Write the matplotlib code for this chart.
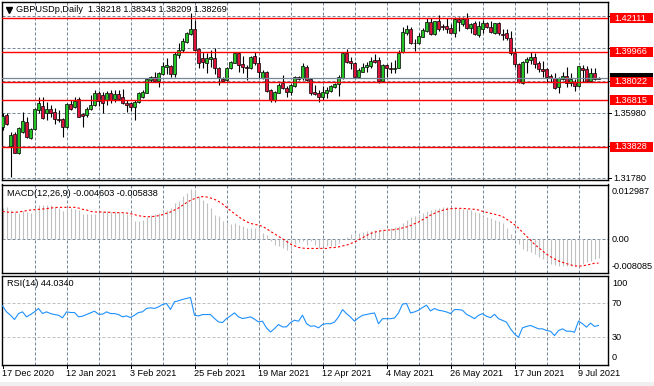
import numpy as np
import matplotlib
matplotlib.use("Agg")
import matplotlib.pyplot as plt
from matplotlib.patches import Rectangle
from matplotlib.lines import Line2D

plt.rcParams['font.family'] = ['Liberation Sans', 'DejaVu Sans']

# ---- data ----
title = "GBPUSDp,Daily  1.38218 1.38343 1.38209 1.38269"
macd_title = "MACD(12,26,9) -0.004603 -0.005838"
rsi_title = "RSI(14) 44.0340"

date_labels = ["17 Dec 2020", "12 Jan 2021", "3 Feb 2021", "25 Feb 2021", "19 Mar 2021",
               "12 Apr 2021", "4 May 2021", "26 May 2021", "17 Jun 2021", "9 Jul 2021"]
date_idx = [0, 16, 32, 48, 64, 80, 96, 112, 128, 144]

opens = [
    1.3512, 1.3587, 1.3387, 1.3463, 1.3344, 1.3480, 1.3544, 1.3437, 1.3495, 1.3620,
    1.3645, 1.3598, 1.3624, 1.3604, 1.3561, 1.3559, 1.3512, 1.3658, 1.3637, 1.3688,
    1.3594, 1.3585, 1.3624, 1.3650, 1.3731, 1.3716, 1.3684, 1.3731, 1.3688, 1.3721,
    1.3703, 1.3667, 1.3663, 1.3641, 1.3673, 1.3706, 1.3731, 1.3813, 1.3830, 1.3809,
    1.3852, 1.3899, 1.3903, 1.3852, 1.3974, 1.4007, 1.4060, 1.4110, 1.4140, 1.4011,
    1.3953, 1.3921, 1.3946, 1.3953, 1.3888, 1.3819, 1.3813, 1.3888, 1.3925, 1.3989,
    1.3914, 1.3899, 1.3888, 1.3968, 1.3925, 1.3824, 1.3867, 1.3749, 1.3684, 1.3731,
    1.3792, 1.3764, 1.3738, 1.3774, 1.3830, 1.3824, 1.3899, 1.3817, 1.3736, 1.3727,
    1.3706, 1.3731, 1.3744, 1.3770, 1.3785, 1.3824, 1.3989, 1.3936, 1.3925, 1.3835,
    1.3867, 1.3895, 1.3905, 1.3942, 1.3942, 1.3809, 1.3910, 1.3893, 1.3884, 1.3888,
    1.3996, 1.4114, 1.4140, 1.4054, 1.4050, 1.4093, 1.4131, 1.4189, 1.4110, 1.4194,
    1.4161, 1.4161, 1.4146, 1.4118, 1.4206, 1.4174, 1.4211, 1.4146, 1.4178, 1.4103,
    1.4140, 1.4183, 1.4153, 1.4114, 1.4183, 1.4110, 1.4114, 1.4082, 1.3989, 1.3914,
    1.3792, 1.3931, 1.3942, 1.3959, 1.3921, 1.3884, 1.3882, 1.3839, 1.3828, 1.3766,
    1.3817, 1.3839, 1.3796, 1.3802, 1.3774, 1.3888, 1.3884, 1.3809, 1.3860, 1.38218]
highs = [
    1.3598, 1.3598, 1.3480, 1.3480, 1.3512, 1.3609, 1.3572, 1.3501, 1.3630, 1.3701,
    1.3701, 1.3673, 1.3652, 1.3630, 1.3620, 1.3566, 1.3663, 1.3684, 1.3706, 1.3706,
    1.3602, 1.3637, 1.3716, 1.3749, 1.3744, 1.3738, 1.3744, 1.3749, 1.3749, 1.3749,
    1.3753, 1.3684, 1.3673, 1.3684, 1.3738, 1.3749, 1.3824, 1.3839, 1.3867, 1.3867,
    1.3931, 1.3953, 1.3910, 1.3996, 1.4050, 1.4082, 1.4125, 1.4247, 1.4200, 1.4017,
    1.3996, 1.3985, 1.4007, 1.4022, 1.3899, 1.3830, 1.3899, 1.3936, 1.3996, 1.3996,
    1.3968, 1.3910, 1.3968, 1.3996, 1.3964, 1.3878, 1.3871, 1.3753, 1.3744, 1.3792,
    1.3845, 1.3774, 1.3787, 1.3839, 1.3839, 1.3925, 1.3910, 1.3824, 1.3781, 1.3749,
    1.3774, 1.3766, 1.3781, 1.3796, 1.3845, 1.3996, 1.4011, 1.3964, 1.3931, 1.3888,
    1.3925, 1.3931, 1.3964, 1.3981, 1.3959, 1.3914, 1.3914, 1.3931, 1.3942, 1.4007,
    1.4157, 1.4168, 1.4153, 1.4075, 1.4118, 1.4146, 1.4211, 1.4211, 1.4196, 1.4232,
    1.4174, 1.4211, 1.4174, 1.4222, 1.4217, 1.4217, 1.4247, 1.4183, 1.4196, 1.4196,
    1.4200, 1.4189, 1.4196, 1.4178, 1.4189, 1.4140, 1.4140, 1.4131, 1.4017, 1.3921,
    1.3938, 1.3964, 1.3996, 1.3985, 1.3938, 1.3938, 1.3888, 1.3852, 1.3856, 1.3830,
    1.3867, 1.3899, 1.3856, 1.3817, 1.3903, 1.3910, 1.3903, 1.3888, 1.3888, 1.38343]
lows = [
    1.3491, 1.3523, 1.3185, 1.3340, 1.3336, 1.3473, 1.3437, 1.3432, 1.3491, 1.3598,
    1.3559, 1.3555, 1.3577, 1.3529, 1.3544, 1.3448, 1.3501, 1.3620, 1.3630, 1.3572,
    1.3512, 1.3577, 1.3620, 1.3645, 1.3645, 1.3602, 1.3652, 1.3663, 1.3673, 1.3684,
    1.3658, 1.3609, 1.3613, 1.3555, 1.3663, 1.3695, 1.3727, 1.3802, 1.3802, 1.3770,
    1.3845, 1.3852, 1.3830, 1.3830, 1.3953, 1.3996, 1.4054, 1.4103, 1.4002, 1.3888,
    1.3888, 1.3856, 1.3899, 1.3852, 1.3781, 1.3802, 1.3809, 1.3882, 1.3921, 1.3867,
    1.3860, 1.3813, 1.3884, 1.3910, 1.3824, 1.3817, 1.3738, 1.3671, 1.3673, 1.3727,
    1.3753, 1.3706, 1.3716, 1.3770, 1.3813, 1.3813, 1.3809, 1.3716, 1.3716, 1.3673,
    1.3684, 1.3695, 1.3738, 1.3759, 1.3710, 1.3817, 1.3921, 1.3882, 1.3824, 1.3830,
    1.3862, 1.3867, 1.3888, 1.3921, 1.3796, 1.3802, 1.3835, 1.3856, 1.3856, 1.3888,
    1.3989, 1.4103, 1.4045, 1.4002, 1.4043, 1.4088, 1.4125, 1.4103, 1.4103, 1.4131,
    1.4135, 1.4114, 1.4114, 1.4093, 1.4131, 1.4161, 1.4140, 1.4114, 1.4101, 1.4088,
    1.4114, 1.4146, 1.4114, 1.4108, 1.4103, 1.4071, 1.4071, 1.3974, 1.3899, 1.3792,
    1.3787, 1.3856, 1.3916, 1.3888, 1.3867, 1.3835, 1.3802, 1.3802, 1.3753, 1.3727,
    1.3813, 1.3770, 1.3774, 1.3744, 1.3770, 1.3802, 1.3802, 1.3802, 1.3813, 1.38209]
closes = [
    1.3581, 1.3529, 1.3458, 1.3344, 1.3501, 1.3549, 1.3443, 1.3495, 1.3624, 1.3663,
    1.3566, 1.3624, 1.3598, 1.3559, 1.3555, 1.3508, 1.3656, 1.3628, 1.3678, 1.3577,
    1.3581, 1.3624, 1.3650, 1.3727, 1.3680, 1.3663, 1.3731, 1.3684, 1.3723, 1.3693,
    1.3663, 1.3650, 1.3641, 1.3673, 1.3731, 1.3738, 1.3817, 1.3830, 1.3809, 1.3860,
    1.3903, 1.3910, 1.3852, 1.3979, 1.4007, 1.4067, 1.4114, 1.4142, 1.4007, 1.3921,
    1.3931, 1.3953, 1.3959, 1.3888, 1.3830, 1.3809, 1.3888, 1.3931, 1.3989, 1.3910,
    1.3899, 1.3888, 1.3959, 1.3921, 1.3867, 1.3867, 1.3744, 1.3684, 1.3738, 1.3781,
    1.3759, 1.3738, 1.3781, 1.3830, 1.3822, 1.3903, 1.3813, 1.3731, 1.3723, 1.3701,
    1.3738, 1.3749, 1.3774, 1.3787, 1.3830, 1.3989, 1.3931, 1.3921, 1.3835, 1.3878,
    1.3895, 1.3910, 1.3936, 1.3931, 1.3809, 1.3910, 1.3888, 1.3884, 1.3893, 1.3989,
    1.4120, 1.4140, 1.4050, 1.4050, 1.4097, 1.4135, 1.4189, 1.4110, 1.4194, 1.4142,
    1.4153, 1.4142, 1.4118, 1.4204, 1.4185, 1.4204, 1.4146, 1.4174, 1.4110, 1.4161,
    1.4178, 1.4153, 1.4120, 1.4178, 1.4114, 1.4103, 1.4082, 1.3985, 1.3914, 1.3802,
    1.3931, 1.3948, 1.3959, 1.3914, 1.3882, 1.3873, 1.3830, 1.3824, 1.3759, 1.3824,
    1.3839, 1.3796, 1.3817, 1.3776, 1.3903, 1.3878, 1.3809, 1.3856, 1.3819, 1.38269]

macd_main = [
    0.00736, 0.00752, 0.00696, 0.00632, 0.00616, 0.00656, 0.0064, 0.00616, 0.00696, 0.008,
    0.008, 0.008, 0.008, 0.00752, 0.00736, 0.00656, 0.00736, 0.00736, 0.0072, 0.00696,
    0.006, 0.00592, 0.00592, 0.00592, 0.0064, 0.00656, 0.00672, 0.0064, 0.00656, 0.0064,
    0.00616, 0.00592, 0.00536, 0.00432, 0.00432, 0.00456, 0.00512, 0.0056, 0.00592, 0.00616,
    0.00672, 0.00696, 0.00736, 0.00856, 0.00896, 0.01016, 0.01096, 0.012, 0.01176, 0.01016,
    0.00936, 0.00856, 0.00736, 0.00576, 0.00536, 0.00416, 0.004, 0.00352, 0.00376, 0.00336,
    0.00296, 0.00256, 0.00256, 0.00256, 0.00256, 0.00136, 0.0008, -0.00064, -0.00144, -0.00184,
    -0.00224, -0.00264, -0.00304, -0.00128, -0.0008, -0.00064, -0.00144, -0.00064, -0.0016, -0.00224,
    -0.00184, -0.00184, -0.00172, -0.00172, -0.00094, -0.00016, 0.00047, 0.00102, 0.00125, 0.00141,
    0.00156, 0.0018, 0.0018, 0.00219, 0.00219, 0.00219, 0.00235, 0.00258, 0.00282, 0.00313,
    0.00375, 0.00454, 0.00516, 0.00547, 0.00571, 0.0061, 0.00673, 0.00688, 0.0072, 0.00735,
    0.00751, 0.00751, 0.00751, 0.00766, 0.00735, 0.0072, 0.00704, 0.00688, 0.00649, 0.0061,
    0.00547, 0.00516, 0.00493, 0.00454, 0.00414, 0.00375, 0.00258, 0.00102, -0.00055, -0.00133,
    -0.0025, -0.00289, -0.00328, -0.00368, -0.00446, -0.00485, -0.00524, -0.00602, -0.00626, -0.00657,
    -0.00657, -0.00657, -0.00657, -0.00657, -0.00641, -0.00602, -0.00563, -0.00524, -0.00485, -0.004603]
macd_signal = [
    0.00656, 0.0064, 0.00632, 0.00632, 0.0064, 0.00656, 0.00672, 0.00688, 0.00696, 0.00704,
    0.00712, 0.0072, 0.00736, 0.00744, 0.00752, 0.00752, 0.00752, 0.00752, 0.00752, 0.00736,
    0.00704, 0.00688, 0.00656, 0.0064, 0.0064, 0.0064, 0.00632, 0.00632, 0.00624, 0.00624,
    0.00624, 0.00616, 0.006, 0.00576, 0.00552, 0.00536, 0.00528, 0.00528, 0.00536, 0.00552,
    0.00576, 0.00608, 0.0064, 0.00688, 0.00736, 0.008, 0.00864, 0.0092, 0.0096, 0.00992,
    0.01008, 0.01, 0.00976, 0.00944, 0.00896, 0.00832, 0.00752, 0.00672, 0.006, 0.00528,
    0.00464, 0.00408, 0.00368, 0.00344, 0.00328, 0.00296, 0.0024, 0.00176, 0.0012, 0.00056,
    0.0, -0.00064, -0.00128, -0.00168, -0.00208, -0.00224, -0.00232, -0.00232, -0.00232, -0.00232,
    -0.00232, -0.00232, -0.00211, -0.00211, -0.00196, -0.00172, -0.00156, -0.00117, -0.00078, -0.00031,
    0.00023, 0.00078, 0.00125, 0.00156, 0.0018, 0.00196, 0.00203, 0.00211, 0.00219, 0.00235,
    0.00258, 0.00282, 0.00313, 0.0036, 0.00399, 0.00454, 0.00508, 0.00563, 0.0061, 0.00649,
    0.0068, 0.00704, 0.0072, 0.00727, 0.00727, 0.00727, 0.0072, 0.00712, 0.00704, 0.00688,
    0.00657, 0.00633, 0.0061, 0.00587, 0.00563, 0.00532, 0.00469, 0.00407, 0.00336, 0.00258,
    0.00156, 0.00063, -0.00031, -0.00133, -0.00211, -0.00289, -0.00368, -0.0043, -0.00485, -0.00532,
    -0.00563, -0.00594, -0.00626, -0.00649, -0.00657, -0.00649, -0.00633, -0.0061, -0.00587, -0.005838]
rsi = [
    67.2, 60.1, 56.1, 51.0, 58.1, 60.1, 54.2, 56.9, 60.1, 64.1,
    58.1, 60.1, 58.1, 56.9, 56.1, 53.0, 60.1, 59.3, 59.3, 54.2,
    55.0, 56.9, 58.9, 60.9, 57.3, 57.3, 60.1, 58.1, 58.1, 56.9,
    54.2, 55.3, 53.4, 56.1, 59.3, 60.1, 64.1, 64.9, 64.1, 66.0,
    68.8, 70.0, 62.9, 72.0, 73.2, 74.8, 75.9, 77.1, 56.1, 55.3,
    56.9, 56.9, 56.9, 52.2, 48.2, 47.4, 52.2, 55.3, 58.9, 54.2,
    52.2, 53.0, 54.2, 51.4, 48.2, 49.0, 41.1, 36.3, 40.3, 45.1,
    42.3, 42.3, 47.4, 50.2, 49.0, 56.1, 46.2, 43.1, 43.5, 41.1,
    45.1, 46.2, 46.0, 48.0, 54.0, 62.8, 58.0, 54.0, 49.0, 53.0,
    56.0, 57.0, 58.0, 58.8, 46.0, 52.0, 52.0, 52.0, 52.8, 58.8,
    69.2, 70.0, 58.8, 60.0, 62.0, 65.2, 68.0, 61.2, 64.0, 62.0,
    61.2, 60.0, 58.0, 62.8, 62.8, 62.0, 57.2, 54.8, 52.0, 56.0,
    58.0, 54.8, 53.2, 57.2, 52.0, 50.0, 48.0, 40.0, 34.0, 30.0,
    41.2, 42.8, 44.0, 42.0, 40.0, 40.0, 38.0, 37.2, 32.0, 38.0,
    40.0, 37.2, 37.2, 36.0, 49.2, 46.0, 42.0, 46.8, 42.8, 44.034]

red_levels = [1.42111, 1.39966, 1.38022, 1.36815, 1.33828]
grid_levels = [1.31780, 1.33880, 1.35980, 1.38080, 1.40180, 1.42280]
shown_levels = [1.31780, 1.35980]   # the others sit under the red price boxes
last_close = 1.38269
macd_min, macd_max = -0.008085, 0.012987

# ---- layout (pixel geometry of the terminal window) ----
W, H = 654, 386
fig = plt.figure(figsize=(W / 100, H / 100), dpi=100)
fig.patch.set_facecolor('white')

def fx(x):
    return x / W

def fy(y):
    return 1 - y / H

L, R = 2, 607.5
def panel(top, bottom):
    return fig.add_axes([fx(L), fy(bottom), fx(R) - fx(L), (bottom - top) / H])

ax_p = panel(2, 180)
ax_m = panel(184.5, 272.5)
ax_r = panel(275.5, 364.5)

n = len(closes)
x = np.arange(n)
xlim = (-0.125, -0.125 + (R - L) / 4)
grid_c = '#778899'
dash = (0, (3, 2))
FS = 6.6

for ax in (ax_p, ax_m, ax_r):
    ax.set_xlim(*xlim)
    ax.set_xticks([])
    ax.set_yticks([])
    for s in ax.spines.values():
        s.set_color('black')
        s.set_linewidth(1)
    for k in range(8, n, 8):
        ax.axvline(k, color=grid_c, lw=0.72, ls=dash, zorder=0)

# ---- price panel ----
ptop, pbot = 1.43162, 1.31681
ax_p.set_ylim(pbot, ptop)
for g in grid_levels:
    ax_p.axhline(g, color=grid_c, lw=0.72, ls=dash, zorder=0)

green, red = '#22c322', '#dc143c'
for i in range(n):
    o, h, l, c = opens[i], highs[i], lows[i], closes[i]
    ax_p.vlines(i, l, h, color='black', lw=0.8, zorder=2)
    lo = min(o, c)
    ht = max(abs(c - o), 0.00006)
    ax_p.add_patch(Rectangle((i - 0.375, lo), 0.75, ht,
                             facecolor=green if c >= o else red,
                             edgecolor='black', lw=0.5, zorder=3))

ax_p.axhline(last_close, color=grid_c, lw=0.9, zorder=4)
for lv in red_levels:
    ax_p.axhline(lv, color='red', lw=1.0, zorder=5)

def py(p):
    return 2 + (ptop - p) / (ptop - pbot) * 178

# right-hand price scale
for g in grid_levels:
    fig.add_artist(Line2D([fx(R), fx(R + 3)], [fy(py(g))] * 2, color='black', lw=0.72))
for g in shown_levels:
    fig.text(fx(613), fy(py(g)), f"{g:.5f}", fontsize=FS, va='center', ha='left')

def price_box(p, fc):
    y = py(p)
    fig.add_artist(Rectangle((fx(610), fy(y + 5)), 43 / W, 10 / H,
                             transform=fig.transFigure, facecolor=fc, edgecolor='none', zorder=5))

price_box(last_close, 'black')
for lv in red_levels:
    price_box(lv, 'red')
    fig.text(fx(614), fy(py(lv)), f"{lv:.5f}", fontsize=FS, color='white',
             va='center', ha='left', zorder=6)

fig.text(fx(16), fy(10), title, fontsize=FS, va='center', ha='left')
fig.add_artist(Line2D([fx(9)], [fy(10)], marker='v', color='black', markersize=4,
                      transform=fig.transFigure))

# ---- MACD panel ----
ax_m.set_ylim(macd_min, macd_max)
ax_m.axhline(0, color=grid_c, lw=0.72, ls=dash, zorder=0)
ax_m.vlines(x, 0, macd_main, color='#c0c0c0', lw=0.8, zorder=2)
ax_m.plot(x, macd_signal, color='red', lw=0.8, ls=(0, (2, 2)), zorder=3)
fig.text(fx(7), fy(194), macd_title, fontsize=FS, va='center', ha='left')
fig.text(fx(612), fy(191.5), f"{macd_max:.6f}", fontsize=FS, va='center', ha='left')
fig.text(fx(612), fy(239.2), "0.00", fontsize=FS, va='center', ha='left')
fig.text(fx(612), fy(266.5), f"{macd_min:.6f}", fontsize=FS, va='center', ha='left')

# ---- RSI panel ----
ax_r.set_ylim(-2.2, 103.1)
for lv in (70, 30):
    ax_r.axhline(lv, color='#c0c0c0', lw=0.72, ls=dash, zorder=0)
ax_r.plot(x, rsi, color='#1e90ff', lw=0.8, zorder=3)
fig.text(fx(7), fy(284), rsi_title, fontsize=FS, va='center', ha='left')
for val, yy in ((100, 283), (70, 304), (30, 337.5), (0, 357.5)):
    fig.text(fx(612), fy(yy), str(val), fontsize=FS, va='center', ha='left')

# ---- date axis ----
for lab, idx in zip(date_labels, date_idx):
    xp = 2.5 + 4 * idx
    fig.text(fx(xp), fy(373), lab, fontsize=FS, va='center', ha='left')
    fig.add_artist(Line2D([fx(xp)] * 2, [fy(364.5), fy(368)], color='black', lw=0.72))

fig.add_artist(Rectangle((0, 0), 1, 4.5 / H, transform=fig.transFigure,
                         facecolor='#f0f0f0', edgecolor='none'))

fig.savefig("out.png", dpi=100)
